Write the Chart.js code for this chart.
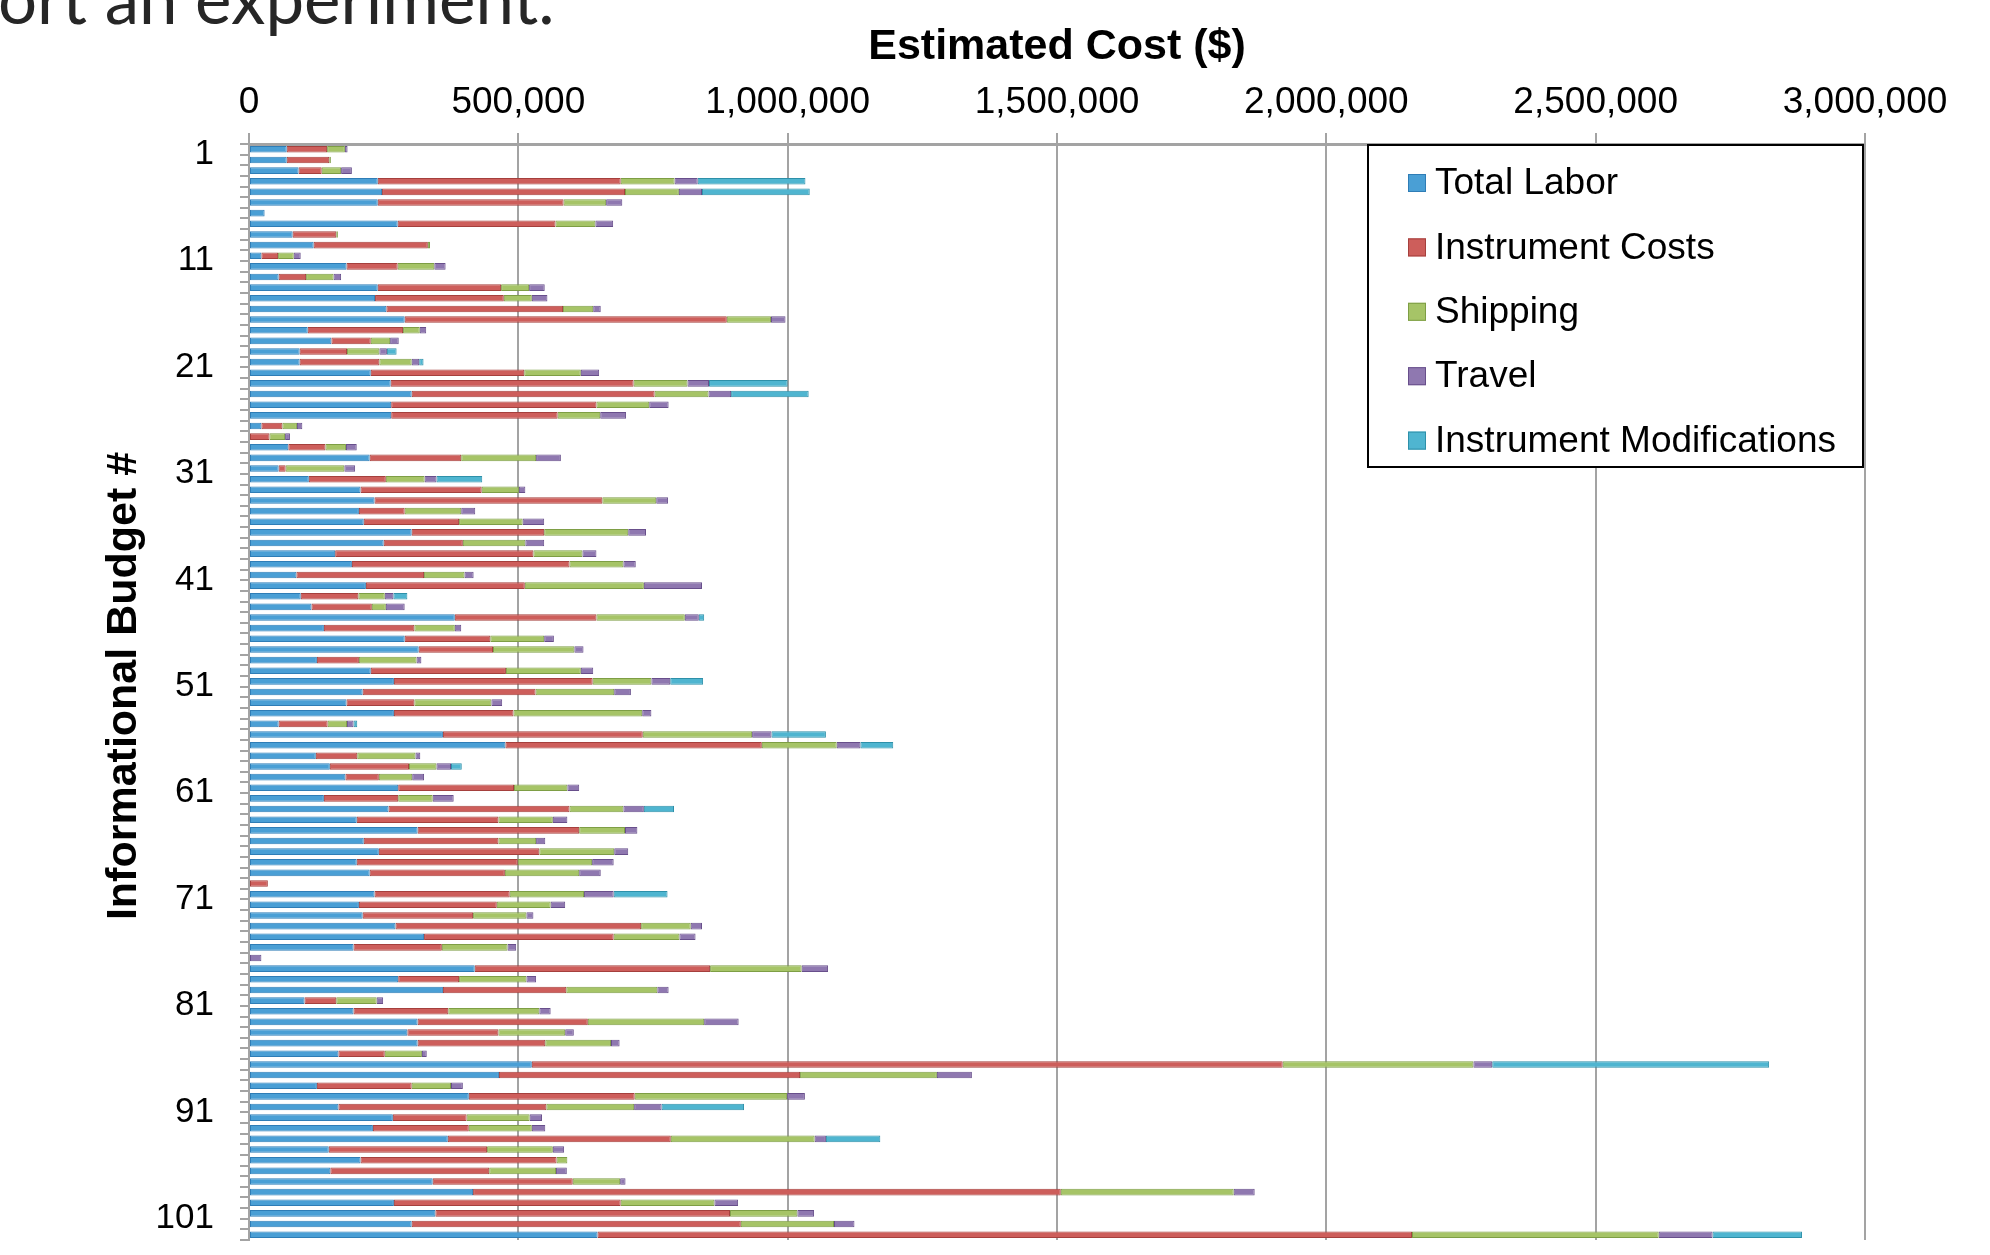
<!DOCTYPE html>
<html>
<head>
<meta charset="utf-8">
<title>Estimated Cost by Informational Budget</title>
<script src="https://cdn.jsdelivr.net/npm/chart.js@4/dist/chart.umd.min.js"></script>
<style>
  html, body { margin: 0; padding: 0; background: #fff; overflow: hidden; }
  #wrap { position: relative; width: 1990px; height: 1255px; overflow: hidden; }
  #slideText {
    position: absolute; left: -2px; top: -37px;
    font-family: Lato, "Open Sans", sans-serif; font-size: 69px; line-height: 69px;
    color: #262626; white-space: nowrap;
  }
  #chart { position: absolute; left: 0; top: 0; }
</style>
</head>
<body>
<div id="wrap">
  <canvas id="chart" width="1990" height="1255"></canvas>
  <div id="slideText">ort an experiment.</div>
</div>
<script>
// Costs per informational budget, in thousands of dollars
const UNIT = 1000;

const budgets = [];
for (let n = 1; n <= 103; n++) budgets.push(String(n));

const laborK = [
  70, 70, 92, 239, 247, 239, 29, 276, 81, 120,
  23, 181, 55, 239, 234, 255, 289, 109, 153, 94,
  94, 226, 263, 302, 264, 264, 23, 0, 73, 224,
  55, 111, 207, 233, 204, 213, 302, 250, 160, 191,
  88, 217, 96, 116, 382, 139, 289, 315, 126, 226,
  269, 211, 181, 269, 55, 360, 476, 124, 150, 179,
  277, 139, 259, 200, 313, 213, 241, 200, 224, 0,
  233, 204, 211, 272, 325, 194, 0, 419, 277, 360,
  103, 194, 313, 294, 313, 166, 525, 464, 126, 408,
  166, 267, 230, 369, 148, 207, 151, 341, 416, 269,
  346, 302, 647
];

const instrumentK = [
  75, 79, 43, 451, 451, 345, 0, 293, 81, 212,
  31, 95, 51, 229, 239, 328, 598, 177, 73, 88,
  148, 285, 451, 451, 381, 309, 39, 38, 69, 170,
  13, 143, 225, 423, 85, 177, 246, 147, 368, 404,
  237, 295, 107, 112, 263, 168, 159, 138, 78, 251,
  369, 321, 126, 222, 91, 371, 476, 77, 147, 62,
  215, 138, 336, 263, 300, 250, 298, 299, 251, 35,
  251, 256, 205, 456, 352, 164, 0, 437, 113, 229,
  59, 176, 316, 169, 237, 86, 1394, 559, 176, 308,
  386, 137, 178, 414, 294, 364, 295, 260, 1091, 421,
  547, 611, 1512
];

const shippingK = [
  33, 3, 36, 100, 100, 79, 0, 74, 3, 4,
  29, 68, 51, 52, 52, 56, 82, 31, 36, 60,
  60, 105, 100, 100, 98, 79, 27, 29, 38, 139,
  109, 72, 69, 100, 105, 118, 156, 116, 91, 100,
  75, 221, 49, 26, 164, 75, 100, 151, 107, 139,
  109, 146, 143, 239, 36, 203, 139, 108, 51, 62,
  99, 64, 100, 101, 85, 70, 139, 138, 138, 0,
  138, 100, 99, 92, 122, 122, 0, 170, 125, 169,
  75, 169, 216, 124, 122, 69, 354, 254, 73, 283,
  163, 117, 117, 267, 122, 20, 124, 88, 321, 174,
  125, 173, 458
];

const travelK = [
  5, 0, 20, 43, 43, 30, 0, 33, 0, 0,
  13, 21, 14, 29, 29, 14, 27, 12, 16, 14,
  14, 34, 40, 42, 36, 48, 10, 9, 20, 46,
  20, 22, 12, 22, 26, 40, 33, 35, 26, 23,
  17, 108, 16, 35, 26, 12, 18, 17, 9, 23,
  35, 31, 20, 17, 12, 36, 44, 9, 27, 22,
  22, 39, 38, 27, 23, 17, 26, 40, 40, 0,
  55, 27, 13, 21, 30, 16, 23, 49, 18, 21,
  12, 21, 64, 16, 16, 9, 35, 65, 22, 33,
  51, 23, 25, 21, 21, 0, 20, 10, 39, 44,
  31, 38, 100
];

const modificationsK = [
  0, 0, 0, 200, 200, 0, 0, 0, 0, 0,
  0, 0, 0, 0, 0, 0, 0, 0, 0, 18,
  8, 0, 146, 144, 0, 0, 0, 0, 0, 0,
  0, 85, 0, 0, 0, 0, 0, 0, 0, 0,
  0, 0, 26, 0, 10, 0, 0, 0, 0, 0,
  61, 0, 0, 0, 7, 101, 61, 0, 20, 0,
  0, 0, 56, 0, 0, 0, 0, 0, 0, 0,
  100, 0, 0, 0, 0, 0, 0, 0, 0, 0,
  0, 0, 0, 0, 0, 0, 514, 0, 0, 0,
  153, 0, 0, 101, 0, 0, 0, 0, 0, 0,
  0, 0, 166
];

const seriesNames = ['Total Labor', 'Instrument Costs', 'Shipping', 'Travel', 'Instrument Modifications'];
const seriesValues = [laborK, instrumentK, shippingK, travelK, modificationsK];
const fillColors = ['#4A9FD5', '#CD5E5B', '#A6C467', '#8F78B0', '#4FB5D0'];
const edgeColors = ['#2F7DB6', '#A5403D', '#7E9E45', '#684F8B', '#2E90A9'];

const xTicks = [0, 500000, 1000000, 1500000, 2000000, 2500000, 3000000];

const AXIS_GRAY = '#a3a3a3';
const FONT = "'Liberation Sans', Arial, Helvetica, sans-serif";

const datasets = seriesNames.map((name, i) => ({
  label: name,
  data: seriesValues[i].map(v => (v > 0 ? v * UNIT : null)),
  backgroundColor: fillColors[i],
  borderColor: edgeColors[i],
  borderWidth: 1,
  borderSkipped: false,
  categoryPercentage: 1.0,
  barPercentage: 0.62
}));

// Axis titles and the boxed legend drawn on top of the plot
const decorations = {
  id: 'decorations',
  afterDraw(chart) {
    const { ctx, chartArea } = chart;
    ctx.save();
    ctx.fillStyle = '#000';
    ctx.font = 'bold 43px ' + FONT;
    ctx.textAlign = 'center';
    ctx.textBaseline = 'middle';
    ctx.fillText('Estimated Cost ($)', (chartArea.left + chartArea.right) / 2, 47);

    ctx.save();
    ctx.translate(124, (chartArea.top + chartArea.bottom) / 2 - 6);
    ctx.rotate(-Math.PI / 2);
    ctx.fillText('Informational Budget #', 0, 0);
    ctx.restore();

    // legend
    const boxW = 495, boxH = 322;
    const bx = chartArea.right - 2 - boxW;
    const by = chartArea.top + 1;
    ctx.fillStyle = '#fff';
    ctx.fillRect(bx, by, boxW, boxH);
    ctx.strokeStyle = '#000';
    ctx.lineWidth = 2;
    ctx.strokeRect(bx, by, boxW, boxH);

    ctx.font = '37px ' + FONT;
    ctx.textAlign = 'left';
    ctx.textBaseline = 'middle';
    chart.data.datasets.forEach((ds, i) => {
      const cy = by + 38 + i * 64.4;
      ctx.fillStyle = ds.backgroundColor;
      ctx.fillRect(bx + 40, cy - 9, 18, 18);
      ctx.strokeStyle = ds.borderColor;
      ctx.lineWidth = 1;
      ctx.strokeRect(bx + 40.5, cy - 8.5, 17, 17);
      ctx.fillStyle = '#000';
      ctx.fillText(ds.label, bx + 67, cy + 1);
    });
    ctx.restore();
  }
};

Chart.defaults.font.family = FONT;
Chart.defaults.color = '#000';

new Chart(document.getElementById('chart'), {
  type: 'bar',
  data: { labels: budgets, datasets },
  options: {
    indexAxis: 'y',
    responsive: false,
    animation: false,
    devicePixelRatio: 1,
    layout: { padding: { left: 0, right: 125, top: 0, bottom: 15 } },
    plugins: {
      legend: { display: false },
      tooltip: { enabled: false },
      title: { display: false }
    },
    scales: {
      x: {
        type: 'linear',
        position: 'top',
        stacked: true,
        min: 0,
        max: 3000000,
        afterBuildTicks(scale) { scale.ticks = xTicks.map(v => ({ value: v })); },
        afterFit(scale) { scale.height = 144; scale.paddingLeft = 0; scale.paddingRight = 0; },
        ticks: {
          font: { size: 37 },
          padding: 8,
          maxRotation: 0,
          callback: v => Number(v).toLocaleString('en-US')
        },
        grid: { color: AXIS_GRAY, lineWidth: 2, tickLength: 11 },
        border: { color: AXIS_GRAY, width: 3 }
      },
      y: {
        type: 'category',
        stacked: true,
        afterFit(scale) { scale.width = 249; scale.paddingTop = 0; scale.paddingBottom = 0; },
        ticks: {
          font: { size: 35 },
          padding: 26,
          labelOffset: 5,
          autoSkip: false,
          callback: (v, i) => (i % 10 === 0 ? budgets[i] : '')
        },
        grid: { offset: true, drawOnChartArea: false, color: AXIS_GRAY, lineWidth: 2, tickLength: 9 },
        border: { color: AXIS_GRAY, width: 2 }
      }
    }
  },
  plugins: [decorations]
});
</script>
</body>
</html>
